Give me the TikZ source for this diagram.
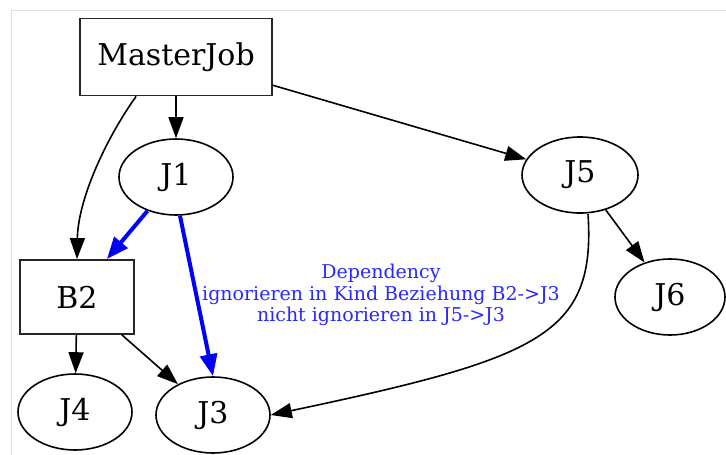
\documentclass[tikz,border=0pt]{standalone}
\usepackage{fontspec}
\setmainfont{DejaVu Serif}
\usetikzlibrary{arrows.meta,shapes.geometric}
\definecolor{lblblue}{RGB}{40,40,255}
\begin{document}
\begin{tikzpicture}[x=1pt,y=-1pt,
  boxnode/.style={draw=black!85,line width=1.8pt,minimum width=192pt,minimum height=77pt,inner sep=0pt,font=\fontsize{30}{35}\selectfont},
  ellnode/.style={draw,ellipse,line width=1.6pt,minimum width=114pt,minimum height=76pt,inner sep=0pt,font=\fontsize{30}{35}\selectfont},
  edge/.style={-{Triangle[length=21pt,width=15pt]},line width=1.6pt},
  bedge/.style={-{Triangle[length=22pt,width=17pt]},line width=4pt,blue}]
\useasboundingbox (0,0) rectangle (726,455);
\draw[black!12,line width=1pt] (11,455) -- (11,10) -- (726,10);
\node[boxnode] (mj) at (176,57) {MasterJob};
\node[ellnode] (j1) at (176,177) {J1};
\node[ellnode,minimum width=116pt] (j5) at (580,175) {J5};
\node[boxnode,minimum width=114pt,minimum height=74pt] (b2) at (77,297) {B2};
\node[ellnode,minimum width=110pt] (j6) at (670,297) {J6};
\node[ellnode] (j4) at (75,412) {J4};
\node[ellnode] (j3) at (213,415) {J3};
\node[text=lblblue,align=center,font=\fontsize{19}{21.5}\selectfont] (lbl) at (381,295) {Dependency\\ignorieren in Kind Beziehung B2->J3\\nicht ignorieren in J5->J3};
\draw[edge] (mj) -- (j1);
\draw[edge] (mj.south west) ++(57,0) coordinate (mjs) .. controls (105,140) and (78,200) .. (b2.north);
\draw[edge] (mj) -- (j5);
\draw[bedge] (j1) -- ([xshift=-28pt]b2.north east);
\draw[bedge] (j1.south) ++(4,0) coordinate (j1s) -- (j3.north);
\draw[edge] (b2) -- (j4);
\draw[edge] (b2.south east) ++(-13,0) coordinate (b2s) -- (j3);
\draw[edge] (j5.south) ++(8,0) coordinate (j5s) .. controls (596,335) and (540,358) .. (j3.east);
\draw[edge] (j5) -- (j6);
\end{tikzpicture}
\end{document}
